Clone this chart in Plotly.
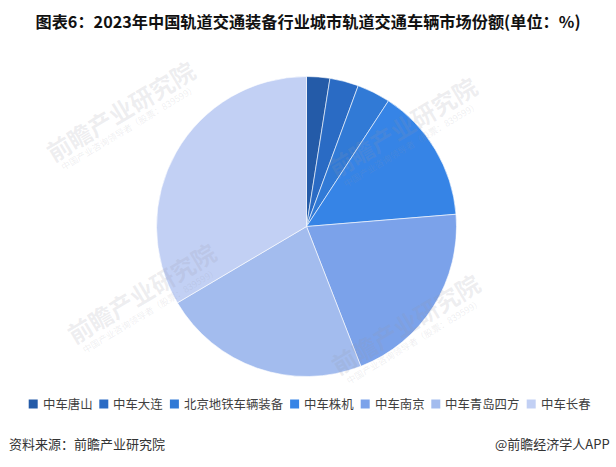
import plotly.graph_objects as go

# Dados do gráfico
labels = ["中车唐山", "中车大连", "北京地铁车辆装备", "中车株机", "中车南京", "中车青岛四方", "中车长春"]
values = [2.5, 3.1, 3.6, 14.5, 20.4, 22.4, 33.5]
colors = ["#245BA8", "#2A6BC4", "#317AD6", "#3684E6", "#7BA2EA", "#A3BCEE", "#C2D0F4"]

W, H = 616, 467
cx, cy, r = 306.5, 226.5, 150


def px(x):
    return x / W


def py(y):
    # y em pixels a partir do topo -> coordenada paper
    return (H - y) / H


fig = go.Figure()

fig.add_trace(
    go.Pie(
        labels=labels,
        values=values,
        sort=False,
        direction="clockwise",
        rotation=0,
        textinfo="none",
        hoverinfo="label+value",
        showlegend=False,
        marker=dict(colors=colors, line=dict(color="white", width=0.6)),
        domain=dict(x=[px(cx - r), px(cx + r)], y=[py(cy + r), py(cy - r)]),
    )
)

fig.update_layout(
    width=W,
    height=H,
    margin=dict(l=0, r=0, t=0, b=0),
    paper_bgcolor="white",
    plot_bgcolor="white",
    font=dict(family="Noto Sans CJK SC", size=13, color="#404040"),
    title=dict(
        text="<b>图表6：2023年中国轨道交通装备行业城市轨道交通车辆市场份额(单位：%)</b>",
        x=0.5,
        xanchor="center",
        y=py(22),
        yanchor="middle",
        font=dict(family="Noto Sans CJK SC", size=16.2, color="#111111"),
    ),
)

# Marca d'água (bem clara, inclinada)
for wx, wy in [(120, 110), (402, 126), (141, 292), (405, 323)]:
    fig.add_annotation(
        text="<b>前瞻产业研究院</b>",
        x=px(wx), y=py(wy), xref="paper", yref="paper",
        xanchor="center", yanchor="middle", showarrow=False,
        textangle=-31,
        font=dict(size=24, color="rgba(150,150,165,0.16)"),
    )
    fig.add_annotation(
        text="中国产业咨询领导者（股票：839599）",
        x=px(wx + 9), y=py(wy + 18), xref="paper", yref="paper",
        xanchor="center", yanchor="middle", showarrow=False,
        textangle=-31,
        font=dict(size=9, color="rgba(150,150,165,0.16)"),
    )

# Legenda horizontal feita à mão (a legenda do plotly não cabe numa linha)
fs = 12.4      # tamanho da fonte da legenda
box = 9        # lado do quadradinho
gap_in = 3     # quadrado -> texto
gap_out = 9    # texto -> próximo item
ly = 404       # centro vertical da legenda (px, a partir do topo)
total = sum(box + gap_in + len(t) * fs for t in labels) + gap_out * (len(labels) - 1)
x0 = 308.5 - total / 2
for lab, col in zip(labels, colors):
    fig.add_shape(
        type="rect",
        xref="paper", yref="paper",
        x0=px(x0), x1=px(x0 + box),
        y0=py(ly + box / 2), y1=py(ly - box / 2),
        fillcolor=col, line=dict(width=0),
    )
    fig.add_annotation(
        text=lab,
        x=px(x0 + box + gap_in), y=py(ly),
        xref="paper", yref="paper",
        xanchor="left", yanchor="middle",
        showarrow=False,
        font=dict(size=fs, color="#404040"),
    )
    x0 += box + gap_in + len(lab) * fs + gap_out

# Fonte e marca
fig.add_annotation(
    text="资料来源：前瞻产业研究院",
    x=px(7), y=py(443),
    xref="paper", yref="paper",
    xanchor="left", yanchor="middle",
    showarrow=False,
    font=dict(size=13, color="#333333"),
)
fig.add_annotation(
    text="@前瞻经济学人APP",
    x=px(612), y=py(443),
    xref="paper", yref="paper",
    xanchor="right", yanchor="middle",
    showarrow=False,
    font=dict(size=13, color="#333333"),
)

fig.write_html(
    "out.html",
    config={"displayModeBar": False},
    post_script="document.body.style.margin='0';",
)
